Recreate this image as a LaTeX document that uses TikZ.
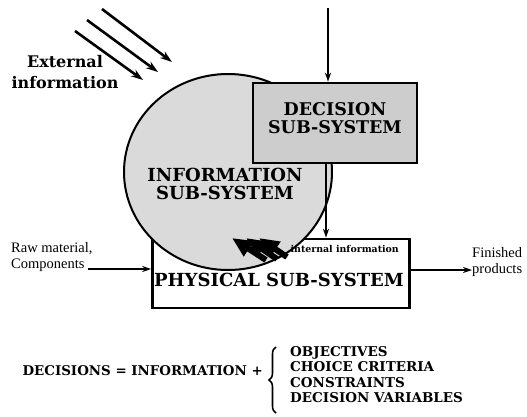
\documentclass[tikz,border=0pt]{standalone}
\usepackage{fontspec}
\setmainfont{DejaVu Serif}
\newfontfamily\timesf{Liberation Serif}
\usetikzlibrary{shapes.geometric,arrows.meta,decorations.pathreplacing,calc}
\definecolor{infofill}{HTML}{DADADA}
\definecolor{decfill}{HTML}{CDCDCD}
\tikzset{
  sysbox/.style={draw,line width=2.6pt,rectangle,inner sep=0pt},
  bigtitle/.style={font=\bfseries\fontsize{17.5}{17.5}\selectfont,align=center,inner sep=0pt},
  smalllab/.style={font=\timesf\fontsize{14.5}{15.5}\selectfont,align=left,inner sep=0pt},
  flow/.style={line width=1.6pt,-{Stealth[length=9pt,width=6pt]}},
  extarrow/.style={line width=2.6pt,-{Stealth[length=12pt,width=8pt]}},
  intarrow/.style={line width=6pt,-{Triangle[length=20pt,width=17pt]}},
  eqtext/.style={font=\bfseries\fontsize{13.4}{15.5}\selectfont,inner sep=0pt}
}
\begin{document}
\begin{tikzpicture}[x=1pt,y=-1pt]
\useasboundingbox (0,0) rectangle (527,416);
% physical sub-system box
\node[sysbox,fill=white,minimum width=257pt,minimum height=69pt] (phys) at (281,273.5) {};
% information sub-system
\node[ellipse,draw,line width=2pt,fill=infofill,minimum width=208pt,minimum height=196pt,inner sep=0pt] (info) at (228,172) {};
% decision sub-system
\node[sysbox,fill=decfill,minimum width=164pt,minimum height=80pt] (dec) at (335,123) {};

\node[bigtitle] (dectxt) at (335,118) {DECISION\\SUB-SYSTEM};
\node[bigtitle,font=\bfseries\fontsize{18}{17.5}\selectfont] (infotxt) at (225,184) {INFORMATION\\SUB-SYSTEM};
\node[font=\bfseries\fontsize{18}{18}\selectfont,inner sep=0pt] (phystxt) at (279,280) {PHYSICAL SUB-SYSTEM};
\node[font=\bfseries\fontsize{9.4}{10}\selectfont,inner sep=0pt,anchor=east] (inttxt) at (399,249) {internal information};

% external information
\node[font=\bfseries\fontsize{16}{21}\selectfont,align=center,inner sep=0pt] (exttxt) at (65,72) {External\\information};
\coordinate (e1s) at (75,31);  \coordinate (e1e) at (143,80);
\coordinate (e2s) at (87,20);  \coordinate (e2e) at (158,72);
\coordinate (e3s) at (102,9);  \coordinate (e3e) at (172,62);
\draw[extarrow] (e1s) -- (e1e);
\draw[extarrow] (e2s) -- (e2e);
\draw[extarrow] (e3s) -- (e3e);

% top input to decision
\coordinate (topin) at (328,8);
\draw[flow] (topin) -- (topin |- dec.north);
% decision to physical
\coordinate (dd) at (326,0);
\draw[flow] (dd |- dec.south) -- (dd |- phys.north);

% raw material
\node[smalllab,anchor=west] (rawtxt) at (11,257) {Raw material,\\Components};
\coordinate (rawstart) at (88,269);
\draw[flow] (rawstart) -- (rawstart -| phys.west);
% finished products
\node[smalllab,anchor=west] (fintxt) at (472,262) {Finished\\products};
\coordinate (finend) at (472,270);
\draw[flow] (finend -| phys.east) -- (finend);

% internal information arrows
\coordinate (i1s) at (266,260); \coordinate (i1e) at (232,238);
\coordinate (i2s) at (277,259); \coordinate (i2e) at (246,238);
\coordinate (i3s) at (287,257); \coordinate (i3e) at (259,238);
\draw[intarrow] (i1s) -- (i1e);
\draw[intarrow] (i2s) -- (i2e);
\draw[intarrow] (i3s) -- (i3e);

% equation
\node[eqtext,anchor=east] (eq) at (263,371) {DECISIONS = INFORMATION +};
\node[eqtext,font=\bfseries\fontsize{13.5}{15.5}\selectfont,align=left,anchor=north west] (items) at (290,346) {OBJECTIVES\\CHOICE CRITERIA\\CONSTRAINTS\\DECISION VARIABLES};
\coordinate (brtop) at (276,347);
\coordinate (brbot) at (276,413);
\draw[decorate,decoration={brace,amplitude=7pt},line width=1.6pt] (brbot) -- (brtop);
\end{tikzpicture}
\end{document}
